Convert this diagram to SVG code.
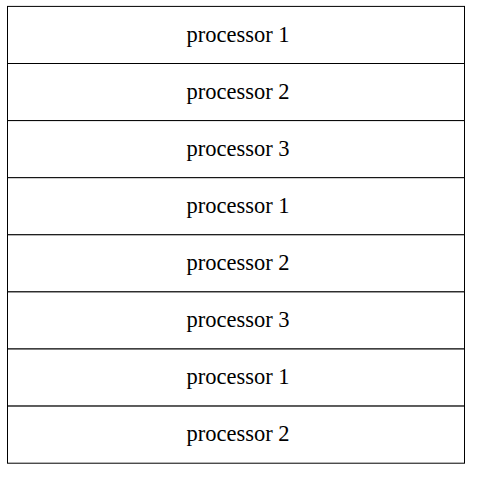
<svg xmlns="http://www.w3.org/2000/svg" width="477" height="479" viewBox="0 0 477 479">
<style>
.box{fill:#fff;stroke:#000;stroke-width:1}
.lbl{font-family:"Liberation Serif","Times New Roman",serif;font-size:22.5px;fill:#000;text-anchor:middle}
</style>
<rect width="477" height="479" fill="#fff"/>
<g id="n1"><rect class="box" x="7.5" y="6.4" width="457" height="57.1"/><text class="lbl" x="238" y="41.7">processor 1</text></g>
<g id="n2"><rect class="box" x="7.5" y="63.5" width="457" height="57.1"/><text class="lbl" x="238" y="98.8">processor 2</text></g>
<g id="n3"><rect class="box" x="7.5" y="120.6" width="457" height="57.1"/><text class="lbl" x="238" y="155.9">processor 3</text></g>
<g id="n4"><rect class="box" x="7.5" y="177.7" width="457" height="57.1"/><text class="lbl" x="238" y="213">processor 1</text></g>
<g id="n5"><rect class="box" x="7.5" y="234.8" width="457" height="57.1"/><text class="lbl" x="238" y="270.1">processor 2</text></g>
<g id="n6"><rect class="box" x="7.5" y="291.9" width="457" height="57.1"/><text class="lbl" x="238" y="327.2">processor 3</text></g>
<g id="n7"><rect class="box" x="7.5" y="349" width="457" height="57.1"/><text class="lbl" x="238" y="384.3">processor 1</text></g>
<g id="n8"><rect class="box" x="7.5" y="406.1" width="457" height="57.1"/><text class="lbl" x="238" y="441.4">processor 2</text></g>
<g id="connectors"></g>
</svg>
